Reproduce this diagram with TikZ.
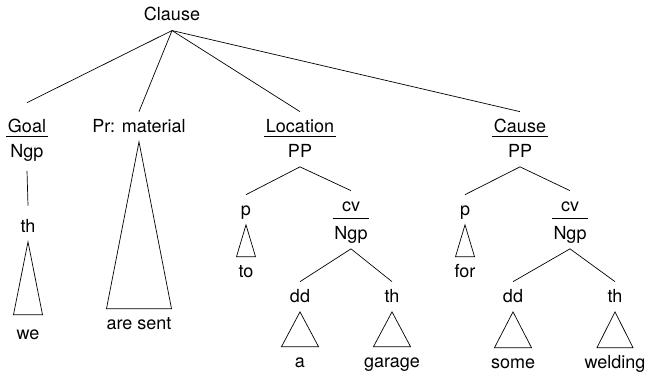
\documentclass[tikz,border=0pt]{standalone}
\usepackage{fontspec}
\setmainfont{TeX Gyre Heros}
\begin{document}
\begin{tikzpicture}[x=1pt, y=-1pt, line width=0.7pt,
                    every node/.style={font=\fontsize{18}{21}\selectfont, anchor=base,
                        inner xsep=1.5pt, inner ysep=7pt, text height=13pt, text depth=2.5pt}]
                    \useasboundingbox (0,0) rectangle (648,380);
                    
                    % Clause and its four functions
                    \node (clause) at (172,20.7) {Clause};
                    \node (goal) at (27,132) {Goal};
                    \node (goalngp) at (27,157) {Ngp};
                    \node (pr) at (139,132) {Pr: material};
                    \node (loc) at (300,132) {Location};
                    \node (locpp) at (300,157) {PP};
                    \node (cause) at (520,132) {Cause};
                    \node (causepp) at (520,157) {PP};
                    
                    \draw (goal.west |- goalngp.north) -- (goal.east |- goalngp.north);
                    \draw (loc.west |- locpp.north) -- (loc.east |- locpp.north);
                    \draw (cause.west |- causepp.north) -- (cause.east |- causepp.north);
                    
                    \draw (clause.south) -- ([yshift=9pt]goal.north);
                    \draw (clause.south) -- (pr.north);
                    \draw (clause.south) -- (loc.north);
                    \draw (clause.south) -- (cause.north);
                    
                    % Goal
                    \node (th1) at (28,232) {th};
                    \node (we) at (28,339) {we};
                    \draw ([yshift=-4pt]goalngp.south) -- ([yshift=6pt]th1.north);
                    \draw (th1.south) -- ([xshift=-14.5pt,yshift=4pt]we.north) -- ([xshift=14.5pt,yshift=4pt]we.north) -- cycle;
                    
                    % Pr: material
                    \node (sent) at (139,329) {are sent};
                    \draw (pr.south) -- ([xshift=-32.5pt]sent.north) -- ([xshift=32.5pt]sent.north) -- cycle;
                    
                    % Location
                    \node (p1) at (246,215) {p};
                    \node (to) at (246,277) {to};
                    \node (cv1) at (351,211) {cv};
                    \node (ngp1) at (351,239) {Ngp};
                    \node (dd1) at (300,302) {dd};
                    \node (a) at (300,367) {a};
                    \node (th2) at (392,302) {th};
                    \node (garage) at (392,367) {garage};
                    
                    \draw (ngp1.north west) -- (ngp1.north east);
                    \draw (p1.north) -- (locpp.south) -- (cv1.north);
                    \draw (dd1.north) -- (ngp1.south) -- (th2.north);
                    \draw (p1.south) -- ([xshift=-9.5pt]to.north) -- ([xshift=9.5pt]to.north) -- cycle;
                    \draw (dd1.south) -- ([xshift=-18.5pt]a.north) -- ([xshift=18.5pt]a.north) -- cycle;
                    \draw (th2.south) -- ([xshift=-18.5pt]garage.north) -- ([xshift=18.5pt]garage.north) -- cycle;
                    
                    % Cause
                    \node (p2) at (465,215) {p};
                    \node (for) at (465,277) {for};
                    \node (cv2) at (570,211) {cv};
                    \node (ngp2) at (570,239) {Ngp};
                    \node (dd2) at (513,302) {dd};
                    \node (some) at (513,368) {some};
                    \node (th3) at (615,302) {th};
                    \node (welding) at (615,368) {welding};
                    
                    \draw (ngp2.north west) -- (ngp2.north east);
                    \draw (p2.north) -- (causepp.south) -- (cv2.north);
                    \draw (dd2.north) -- (ngp2.south) -- (th3.north);
                    \draw (p2.south) -- ([xshift=-9.5pt]for.north) -- ([xshift=9.5pt]for.north) -- cycle;
                    \draw (dd2.south) -- ([xshift=-18.5pt]some.north) -- ([xshift=18.5pt]some.north) -- cycle;
                    \draw (th3.south) -- ([xshift=-18pt]welding.north) -- ([xshift=18pt]welding.north) -- cycle;
                \end{tikzpicture}
\end{document}
